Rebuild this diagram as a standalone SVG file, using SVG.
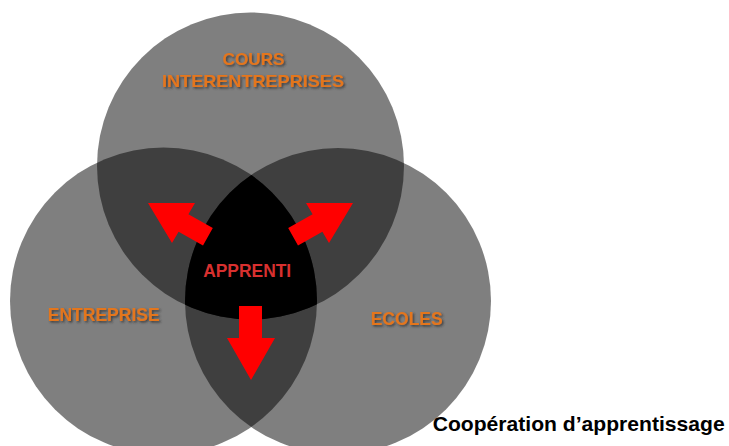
<svg xmlns="http://www.w3.org/2000/svg" width="729" height="446" viewBox="0 0 729 446">
<style>
.c{fill:#000;fill-opacity:0.5}
.lbl{font-family:"Liberation Sans",Arial,sans-serif;font-weight:bold;fill:#e4761f;text-anchor:middle;filter:url(#sh)}
.ap{font-family:"Liberation Sans",Arial,sans-serif;font-weight:bold;fill:#d8302f;text-anchor:middle;font-size:18px}
.arrow{fill:#ff0000}
.cap{font-family:"Liberation Sans",Arial,sans-serif;font-weight:bold;fill:#000;font-size:20.5px}
</style>
<defs>
<filter id="sh" x="-10%" y="-30%" width="120%" height="160%">
<feDropShadow dx="1.5" dy="1.5" stdDeviation="0.8" flood-color="#2a2a2a" flood-opacity="0.8"/>
</filter>
<clipPath id="cT"><circle cx="250.5" cy="166" r="153.5"/></clipPath>
<clipPath id="cL"><circle cx="163.5" cy="301" r="153.5"/></clipPath>
</defs>
<rect width="729" height="446" fill="#fff"/>
<g id="cours">
<circle class="c" cx="250.5" cy="166" r="153.5"/>
<text class="lbl" x="253.5" y="64.5" font-size="17" textLength="62" lengthAdjust="spacingAndGlyphs">COURS</text>
<text class="lbl" x="253" y="86.7" font-size="17" textLength="182" lengthAdjust="spacingAndGlyphs">INTERENTREPRISES</text>
</g>
<g id="entreprise">
<circle class="c" cx="163.5" cy="301" r="153.5"/>
<text class="lbl" x="103.7" y="321" font-size="17.5" textLength="112" lengthAdjust="spacingAndGlyphs">ENTREPRISE</text>
</g>
<g id="ecoles">
<circle class="c" cx="338" cy="301" r="153"/>
<text class="lbl" x="406.7" y="325" font-size="17.5" textLength="72" lengthAdjust="spacingAndGlyphs">ECOLES</text>
</g>
<g id="apprenti">
<g clip-path="url(#cL)"><circle cx="338" cy="301" r="153" fill="#000" clip-path="url(#cT)"/></g>
<text class="ap" x="247.2" y="277.3" textLength="88" lengthAdjust="spacingAndGlyphs">APPRENTI</text>
</g>
<g id="connectors">
<polygon class="arrow" points="148,203 195,203 188.4,214.3 212.8,228 203,245.4 178.6,231.7 172,243"/>
<polygon class="arrow" points="353,203 306,203 312.6,214.3 288.2,228 298,245.4 322.4,231.7 329,243"/>
<polygon class="arrow" points="239,306 262,306 262,338 275,338 251,380 227,338 239,338"/>
</g>
<text class="cap" x="432.7" y="430.5" textLength="292" lengthAdjust="spacingAndGlyphs">Coopération d’apprentissage</text>
</svg>
